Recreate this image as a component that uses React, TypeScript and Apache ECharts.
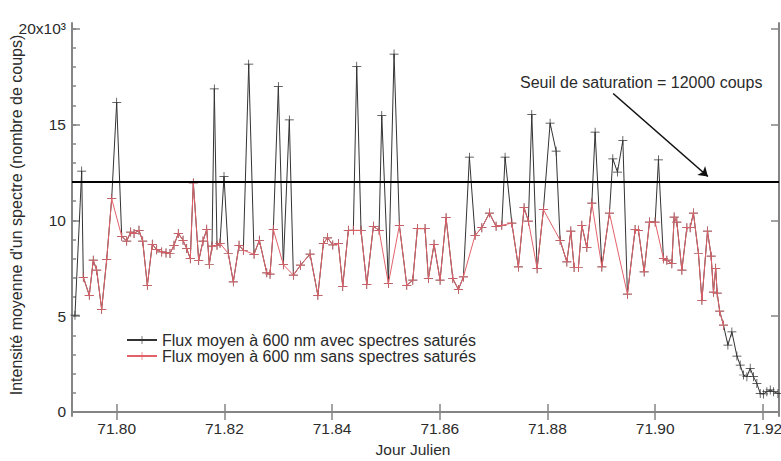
import React, { useEffect, useRef } from "react";
import * as echarts from "echarts";

// ---------- data ----------
const julianDays = [
  71.79225, 71.7935, 71.7938, 71.79491, 71.79565, 71.79628, 71.79721, 71.79814, 71.79907, 71.8,
  71.80093, 71.80186, 71.8026, 71.80322, 71.80414, 71.80483, 71.80569, 71.80661, 71.80743, 71.80836,
  71.80916, 71.8099, 71.81064, 71.81144, 71.81232, 71.813, 71.81367, 71.81423, 71.81523, 71.81603,
  71.81672, 71.8172, 71.8177, 71.81813, 71.81863, 71.81919, 71.81993, 71.82073, 71.82166, 71.82272,
  71.82352, 71.82452, 71.82551, 71.82649, 71.82787, 71.82848, 71.82909, 71.83002, 71.83095, 71.83206,
  71.83281, 71.83414, 71.83591, 71.83736, 71.83838, 71.83916, 71.84013, 71.84117, 71.84198, 71.84302,
  71.84395, 71.84458, 71.84538, 71.84644, 71.84767, 71.84873, 71.84923, 71.85046, 71.85151, 71.8525,
  71.85387, 71.85499, 71.85584, 71.85727, 71.85789, 71.85894, 71.86006, 71.86117, 71.86242, 71.86346,
  71.86439, 71.8655, 71.86656, 71.86781, 71.86922, 71.87046, 71.87152, 71.87213, 71.87338, 71.8746,
  71.87566, 71.87646, 71.87709, 71.87808, 71.87925, 71.88049, 71.88161, 71.88235, 71.8836, 71.88434,
  71.88495, 71.88575, 71.88638, 71.88731, 71.88824, 71.88885, 71.8901, 71.89151, 71.89214, 71.893,
  71.894, 71.89485, 71.89628, 71.8969, 71.89796, 71.89894, 71.9, 71.90061, 71.90154, 71.90217,
  71.9031, 71.90353, 71.90403, 71.90496, 71.90589, 71.9065, 71.90711, 71.90804, 71.90868, 71.90972,
  71.9104, 71.91083, 71.91124, 71.91152, 71.91198, 71.91269, 71.91351, 71.91425, 71.91518, 71.91579,
  71.9164, 71.91704, 71.91765, 71.91826, 71.91889, 71.91951, 71.92012, 71.92075, 71.92137, 71.92198,
  71.9228, 71.92341,
];

// Flux moyen à 600 nm avec spectres saturés (counts)
const fluxAvecSatures = [
  5050, 12570, 7030, 6090, 7920, 7400, 5360, 7950, 11130, 16160,
  9170, 8920, 9390, 9320, 9480, 8920, 6610, 8750, 8470, 8350,
  8300, 8270, 8700, 9320, 8960, 8530, 8000, 11950, 7900, 8920,
  9530, 7710, 8650, 16860, 8700, 8800, 12290, 8270, 6790, 8700,
  8440, 18150, 8230, 8960, 7260, 7190, 9520, 16980, 7690, 15240,
  7140, 7660, 8240, 6090, 8790, 9090, 8720, 8790, 6550, 9480,
  9480, 18040, 9480, 6650, 9690, 9480, 15470, 6700, 18680, 9740,
  6610, 6880, 9570, 9570, 6960, 8750, 6880, 10140, 6960, 6390,
  7050, 13300, 9220, 9620, 10380, 9690, 9740, 13300, 9860, 7570,
  10660, 9960, 15520, 7480, 10560, 15070, 13610, 8960, 7830, 9440,
  7540, 7540, 9740, 8580, 10900, 14600, 7570, 10380, 13210, 12520,
  14170, 6150, 9520, 9480, 7310, 9910, 9910, 13160, 8000, 7920,
  7740, 10170, 9910, 7400, 9620, 9620, 10380, 8270, 5830, 9440,
  8130, 6250, 7500, 6200, 5260, 4530, 3490, 4180, 2920, 2450,
  1930, 1840, 2280, 1840, 1490, 970, 940, 1060, 1150, 1060,
  970, 970,
];

// Flux moyen à 600 nm sans spectres saturés (null = spectre saturé / absent)
const fluxSansSatures = [
  null, null, 7030, 6090, 7920, 7400, 5360, 7950, 11130, null,
  9170, 8920, 9390, 9320, 9480, 8920, 6610, 8750, 8470, 8350,
  8300, 8270, 8700, 9320, 8960, 8530, 8000, 11950, 7900, 8920,
  9530, 7710, 8650, null, 8700, 8800, null, 8270, 6790, 8700,
  8440, null, 8230, 8960, 7260, 7190, 9520, null, 7690, null,
  7140, 7660, 8240, 6090, 8790, 9090, 8720, 8790, 6550, 9480,
  9480, null, 9480, 6650, 9690, 9480, null, 6700, null, 9740,
  6610, 6880, 9570, 9570, 6960, 8750, 6880, 10140, 6960, 6390,
  7050, null, 9220, 9620, 10380, 9690, 9740, null, 9860, 7570,
  10660, 9960, null, 7480, 10560, null, null, 8960, 7830, 9440,
  7540, 7540, 9740, 8580, 10900, null, 7570, 10380, null, null,
  null, 6150, 9520, 9480, 7310, 9910, 9910, null, 8000, 7920,
  7740, 10170, 9910, 7400, 9620, 9620, 10380, 8270, 5830, 9440,
  8130, 6250, 7500, 6200, 5260, 4530, null, null, null, null,
  null, null, null, null, null, null, null, null, null, null,
  null, null,
];

const xTickValues = [71.8, 71.82, 71.84, 71.86, 71.88, 71.9, 71.92];
const yTickValues = [0, 5000, 10000, 15000, 20000];
const yMinorTickValues = [
  0, 1000, 2000, 3000, 4000, 5000, 6000, 7000, 8000, 9000, 10000,
  11000, 12000, 13000, 14000, 15000, 16000, 17000, 18000, 19000, 20000,
];
const seuilSaturation = 12000;
const arrowStart = [71.8922, 16620];
const arrowEnd = [71.9098, 12290];

const seriesAvecName = "Flux moyen à 600 nm avec spectres saturés";
const seriesSansName = "Flux moyen à 600 nm sans spectres saturés";
const annotationText = "Seuil de saturation = 12000 coups";
const xTitle = "Jour Julien";
const yTitle = "Intensité moyenne d'un spectre (nombre de coups)";

// ---------- styling ----------
const FONT = "'Liberation Sans', Arial, Helvetica, sans-serif";
const AXIS_COLOR = "#858585";
const TEXT_COLOR = "#2b2b2b";
const BLACK = "#333333";
const RED = "#e2626a";
const CROSS = "path://M0,4.6H10V5.4H0Z M4.6,0H5.4V10H4.6Z";

const X_MIN = 71.7917;
const X_MAX = 71.923;
const Y_MIN = -210;
const Y_MAX = 20300;

export default function App() {
  const ref = useRef<HTMLDivElement>(null);

  useEffect(() => {
    if (!ref.current) return;
    const chart = echarts.init(ref.current, null, { renderer: "svg" });

    const avecData = julianDays.map((d, i) => [d, fluxAvecSatures[i]]);
    const sansData = julianDays
      .map((d, i) => [d, fluxSansSatures[i]])
      .filter((p) => p[1] !== null);

    const axisLine = { show: true, lineStyle: { color: AXIS_COLOR, width: 2 } };
    const tickStyle = { color: AXIS_COLOR, width: 1.5 };

    const option: any = {
      animation: false,
      backgroundColor: "#ffffff",
      grid: {
        left: 72,
        right: 2,
        top: 23,
        bottom: 45,
        containLabel: false,
        outerBoundsMode: "none",
      },
      xAxis: [
        {
          type: "value",
          position: "bottom",
          min: X_MIN,
          max: X_MAX,
          axisLine,
          axisTick: { show: true, inside: true, length: 8, customValues: xTickValues, lineStyle: tickStyle },
          axisLabel: {
            show: true,
            customValues: xTickValues,
            formatter: (v: number) => v.toFixed(2),
            color: TEXT_COLOR,
            fontSize: 15.5,
            fontFamily: FONT,
            margin: 4,
          },
          splitLine: { show: false },
        },
        {
          type: "value",
          position: "top",
          min: X_MIN,
          max: X_MAX,
          axisLine,
          axisTick: { show: true, inside: true, length: 8, customValues: xTickValues, lineStyle: tickStyle },
          axisLabel: { show: false },
          splitLine: { show: false },
        },
      ],
      yAxis: [
        {
          type: "value",
          position: "left",
          min: Y_MIN,
          max: Y_MAX,
          axisLine,
          axisTick: { show: true, inside: true, length: 8, customValues: yTickValues, lineStyle: tickStyle },
          axisLabel: {
            show: true,
            customValues: yTickValues,
            formatter: (v: number) => (v === 20000 ? "20x10³" : String(v / 1000)),
            color: TEXT_COLOR,
            fontSize: 15.5,
            fontFamily: FONT,
            margin: 6,
          },
          splitLine: { show: false },
        },
        {
          type: "value",
          position: "left",
          min: Y_MIN,
          max: Y_MAX,
          axisLine: { show: false },
          axisTick: { show: true, inside: true, length: 4, customValues: yMinorTickValues, lineStyle: tickStyle },
          axisLabel: { show: false },
          splitLine: { show: false },
        },
        {
          type: "value",
          position: "right",
          min: Y_MIN,
          max: Y_MAX,
          axisLine,
          axisTick: { show: true, inside: true, length: 8, customValues: yTickValues, lineStyle: tickStyle },
          axisLabel: { show: false },
          splitLine: { show: false },
        },
      ],
      legend: {
        orient: "vertical",
        left: 126,
        top: 332,
        padding: 0,
        itemWidth: 30,
        itemHeight: 10,
        itemGap: 0,
        selectedMode: false,
        textStyle: { color: TEXT_COLOR, fontSize: 16, fontFamily: FONT },
        data: [seriesAvecName, seriesSansName],
      },
      series: [
        {
          name: seriesAvecName,
          type: "line",
          xAxisIndex: 0,
          yAxisIndex: 0,
          data: avecData,
          symbol: CROSS,
          symbolSize: 9,
          showAllSymbol: true,
          lineStyle: { color: BLACK, width: 1 },
          itemStyle: { color: BLACK },
          emphasis: { disabled: true },
          z: 2,
          markLine: {
            silent: true,
            symbol: ["none", "arrow"],
            symbolSize: 9,
            label: { show: false },
            lineStyle: { color: "#111111", width: 1.6, type: "solid" },
            data: [[{ coord: arrowStart }, { coord: arrowEnd }]],
          },
        },
        {
          name: seriesSansName,
          type: "line",
          xAxisIndex: 0,
          yAxisIndex: 0,
          data: sansData,
          symbol: CROSS,
          symbolSize: 9,
          showAllSymbol: true,
          lineStyle: { color: RED, width: 1 },
          itemStyle: { color: RED },
          emphasis: { disabled: true },
          z: 3,
          markLine: {
            silent: true,
            symbol: "none",
            label: { show: false },
            lineStyle: { color: "#000000", width: 2.2, type: "solid" },
            data: [{ yAxis: seuilSaturation }],
          },
        },
      ],
      graphic: [
        {
          type: "text",
          x: 520,
          y: 82,
          style: {
            text: annotationText,
            fill: TEXT_COLOR,
            font: `16px ${FONT}`,
            align: "left",
            textAlign: "left",
            verticalAlign: "middle",
            textVerticalAlign: "middle",
          },
        },
        {
          type: "text",
          x: 413,
          y: 449,
          style: {
            text: xTitle,
            fill: TEXT_COLOR,
            font: `15.5px ${FONT}`,
            align: "center",
            textAlign: "center",
            verticalAlign: "middle",
            textVerticalAlign: "middle",
          },
        },
        {
          type: "text",
          x: 16,
          y: 215,
          rotation: Math.PI / 2,
          style: {
            text: yTitle,
            fill: TEXT_COLOR,
            font: `16px ${FONT}`,
            align: "center",
            textAlign: "center",
            verticalAlign: "middle",
            textVerticalAlign: "middle",
          },
        },
      ],
    };

    chart.setOption(option);
    return () => chart.dispose();
  }, []);

  return (
    <div
      ref={ref}
      style={{ position: "fixed", left: 0, top: 0, width: 781, height: 461, background: "#fff" }}
    />
  );
}
